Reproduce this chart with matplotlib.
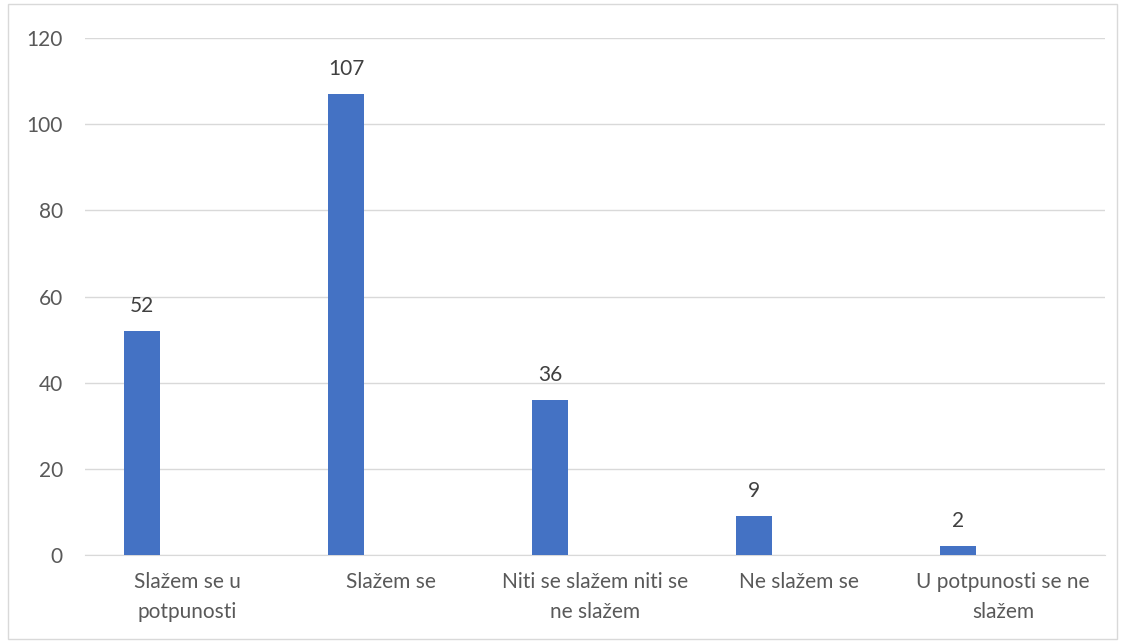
import numpy as np
import matplotlib.pyplot as plt
from matplotlib.patches import Rectangle

categories = ['Slažem se u\npotpunosti', 'Slažem se', 'Niti se slažem niti se\nne slažem',
              'Ne slažem se', 'U potpunosti se ne\nslažem']
counts = [52, 107, 36, 9, 2]
y_ticks = [0, 20, 40, 60, 80, 100, 120]

plt.rcParams['font.family'] = ['Lato', 'DejaVu Sans']
txt = '#595959'

fig = plt.figure(figsize=(11.23, 6.42), dpi=100)
ax = fig.add_axes([0.0757, 0.1355, 0.9083, 0.8053])

x = np.arange(len(categories))
bars = ax.bar(x - 0.22, counts, width=0.176, color='#4472C4', zorder=3)
for b, v in zip(bars, counts):
    ax.text(b.get_x() + b.get_width() / 2, v + 3.5, str(v), ha='center', va='bottom',
            fontsize=15, color='#404040')

ax.set_xlim(-0.5, len(categories) - 0.5)
ax.set_ylim(0, 120)
ax.set_yticks(y_ticks)
ax.set_xticks(x)
ax.set_xticklabels(categories, fontsize=15, color=txt, linespacing=1.65)
ax.tick_params(axis='y', labelsize=15, labelcolor=txt, length=0, pad=16)
ax.tick_params(axis='x', length=0, pad=12)
ax.grid(axis='y', color='#D9D9D9', linewidth=1, zorder=0)
for s in ['top', 'right', 'left']:
    ax.spines[s].set_visible(False)
ax.spines['bottom'].set_color('#D9D9D9')

fig.patches.append(Rectangle((0.007, 0.004), 0.988, 0.99, transform=fig.transFigure,
                             fill=False, edgecolor='#D9D9D9', linewidth=1))

fig.savefig('out.png', dpi=100)
